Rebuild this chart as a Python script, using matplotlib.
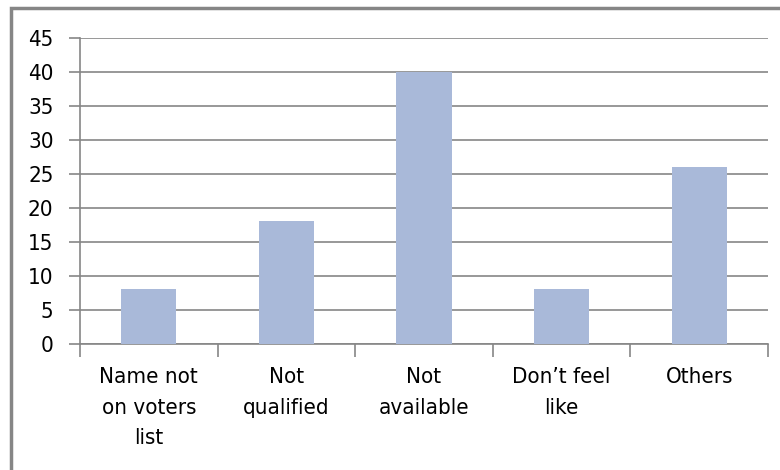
import numpy as np
import matplotlib
matplotlib.use("Agg")
import matplotlib.pyplot as plt
from matplotlib.patches import Rectangle

categories = ["Name not\non voters\nlist", "Not\nqualified", "Not\navailable",
              "Don\u2019t feel\nlike", "Others"]
values = [8, 18, 40, 8, 26]
y_ticks = [0, 5, 10, 15, 20, 25, 30, 35, 40, 45]

plt.rcParams['font.family'] = ['DejaVu Sans']
plt.rcParams['font.stretch'] = 'condensed'

fig = plt.figure(figsize=(7.8, 4.7), dpi=100)
ax = fig.add_axes([80 / 780, 1 - 343.5 / 470, 688 / 780, 306 / 470])

x = np.arange(len(categories))
ax.bar(x, values, width=0.4, color="#A9B9D9", zorder=3)

ax.set_xlim(-0.5, len(categories) - 0.5)
ax.set_ylim(0, 45)
ax.set_yticks(y_ticks)
ax.set_yticklabels([str(t) for t in y_ticks], fontsize=16)
ax.yaxis.grid(True, color="#868686", linewidth=1.2, zorder=0)

# category labels between boundary ticks
ax.set_xticks(x)
ax.set_xticklabels(categories, fontsize=16, linespacing=1.66)
ax.tick_params(axis="x", length=0, pad=17)
ax.set_xticks(np.arange(len(categories) + 1) - 0.5, minor=True)
ax.tick_params(axis="x", which="minor", length=9, color="#868686", width=1.2)
ax.tick_params(axis="y", length=8, color="#868686", width=1.2, pad=11)

for s in ["top", "right"]:
    ax.spines[s].set_visible(False)
for s in ["left", "bottom"]:
    ax.spines[s].set_color("#868686")
    ax.spines[s].set_linewidth(1.2)

# outer chart frame
fig.patches.append(Rectangle((11 / 780, -0.1), 1.1, 1 - 8 / 470 + 0.1,
                             transform=fig.transFigure, fill=False,
                             edgecolor="#868686", linewidth=2.5))

fig.savefig("out.png", dpi=100)
